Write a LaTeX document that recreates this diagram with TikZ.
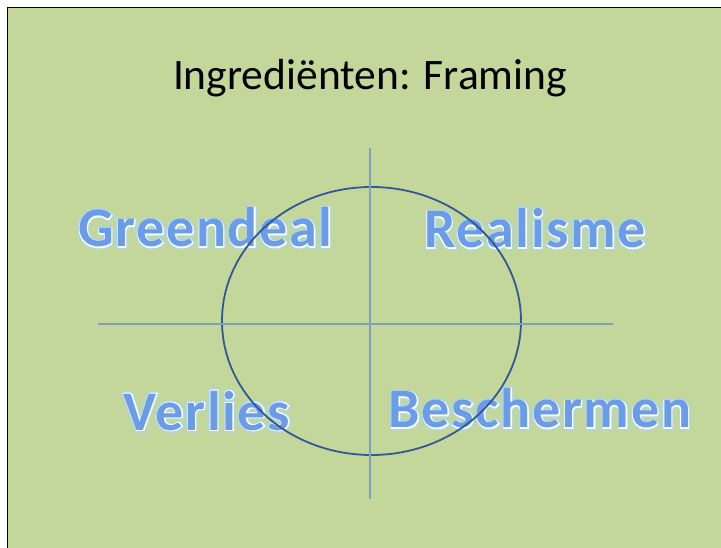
\documentclass[tikz,border=0pt]{standalone}
\usepackage{fontspec}
\setmainfont{Carlito}
% same letters three times: wide stroke for the glow, white stroke for the rim, plain fill on top
\newfontfamily\wordfont[LetterSpace=3.0]{Carlito Bold}
\newfontfamily\rimfont[LetterSpace=3.0,FakeBold=3.4]{Carlito Bold}
\newfontfamily\glowfont[LetterSpace=3.0,FakeBold=9]{Carlito Bold}

\definecolor{slidegreen}{RGB}{196,215,155}
\definecolor{wordblue}{RGB}{106,156,234}
\definecolor{glowteal}{RGB}{178,214,210}
\definecolor{ringblue}{RGB}{50,88,152}
\definecolor{axisblue}{RGB}{127,162,186}

\begin{document}
\begin{tikzpicture}[x=1pt,y=-1pt,
    word/.style={anchor=base, inner sep=0pt, text=wordblue,
      font=\wordfont\fontsize{56}{56}\selectfont},
    wordrim/.style={word, text=white,
      font=\rimfont\fontsize{56}{56}\selectfont},
    wordglow/.style={word, text=glowteal,
      font=\glowfont\fontsize{56}{56}\selectfont},
    axis/.style={draw=axisblue, line width=1.3pt},
    ring/.style={draw=ringblue, line width=1.8pt}]
  \useasboundingbox (0,0) rectangle (721,548);
  \fill[white] (0,0) rectangle (721,548);
  \fill[slidegreen] (7.5,7.5) rectangle (721,548);
  \draw[line width=1.6pt] (7.5,548) -- (7.5,7.5) -- (721,7.5);

  \node[anchor=base, inner sep=0pt, font=\fontsize{43.5}{44}\selectfont]
    (title) at (370,90) {Ingrediënten: Framing};

  % the four quadrant words
  \foreach \name/\x/\y/\txt in {greendeal/205.5/247/Greendeal,
      realisme/535/248/Realisme, verlies/207/430/Verlies,
      beschermen/540/428/Beschermen} {
    \node[wordglow] (\name-glow) at (\x,\y) {\txt};
    \node[wordrim]  (\name-rim)  at (\x,\y) {\txt};
    \node[word]     (\name)      at (\x,\y) {\txt};
  }

  \draw[ring] (371.5,321) ellipse [x radius=149.5pt, y radius=134pt];

  % cross of axes
  \coordinate (top)    at (370,148);
  \coordinate (bottom) at (370,499);
  \coordinate (left)   at (98,324);
  \coordinate (right)  at (613,324);
  \draw[axis] (top) -- (bottom);
  \draw[axis] (left) -- (right);
\end{tikzpicture}
\end{document}
